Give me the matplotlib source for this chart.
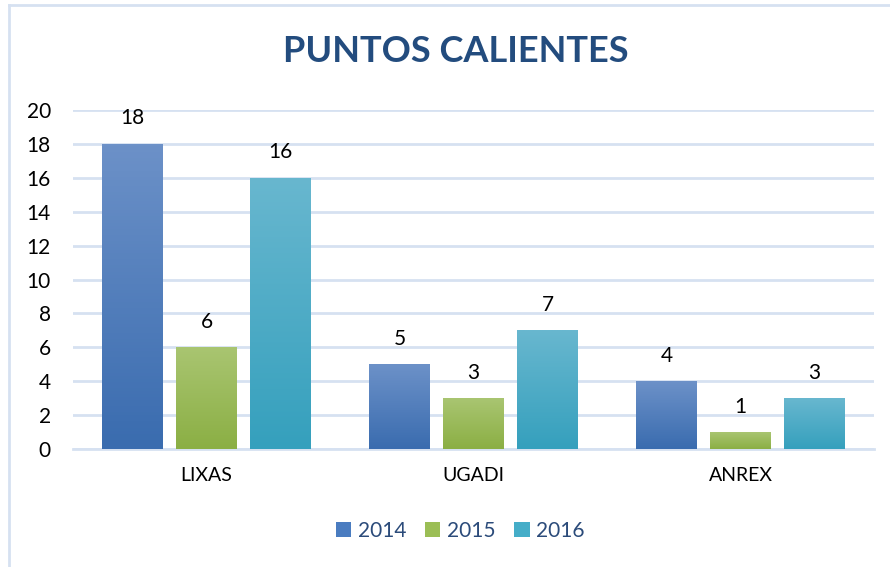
import numpy as np
import matplotlib.pyplot as plt
from matplotlib.colors import LinearSegmentedColormap
from matplotlib.patches import Patch
from matplotlib.lines import Line2D

categories = ["LIXAS", "UGADI", "ANREX"]
years = ["2014", "2015", "2016"]
v2014 = [18, 5, 4]
v2015 = [6, 3, 1]
v2016 = [16, 7, 3]

# top / bottom colours of each series gradient
grads = [("#6C91C8", "#3A6CAF"), ("#A9C571", "#8BAF44"), ("#68B7CF", "#35A0BD")]
mids = ["#4A7CC0", "#9BBE55", "#45ADC8"]

plt.rcParams['font.family'] = ['Lato', 'DejaVu Sans']

fig = plt.figure(figsize=(8.9, 5.67), dpi=100)
ax = fig.add_axes([73 / 890, 1 - 449 / 567, 801 / 890, 339 / 567])

x = np.arange(len(categories))
width = 0.228
step = 0.277
series = [v2014, v2015, v2016]

for i, vals in enumerate(series):
    top, bot = grads[i]
    cmap = LinearSegmentedColormap.from_list("g%d" % i, [bot, top])
    bars = ax.bar(x + (i - 1) * step, vals, width, color=mids[i], zorder=2)
    for b, v in zip(bars, vals):
        x0 = b.get_x()
        grad = np.linspace(0, 1, 100).reshape(-1, 1)
        im = ax.imshow(grad, cmap=cmap, origin="lower", aspect="auto",
                       extent=[x0, x0 + width, 0, v], zorder=3)
        im.set_clip_path(b)
        ax.text(x0 + width / 2, v + 1.5, str(v), ha="center", va="center",
                fontsize=15, color="black", zorder=4)

ax.set_xlim(-0.5, 2.5)
ax.set_ylim(0, 20)
ax.set_yticks(range(0, 21, 2))
ax.set_xticks(x)
ax.set_xticklabels(categories)
ax.tick_params(axis="y", length=0, labelsize=15, pad=16)
ax.tick_params(axis="x", length=0, labelsize=14, pad=13)
ax.grid(axis="y", color="#D6E1F1", linewidth=2, zorder=0)
ax.set_axisbelow(True)
for s in ["top", "right", "left"]:
    ax.spines[s].set_visible(False)
ax.spines["bottom"].set_color("#D6E1F1")
ax.spines["bottom"].set_linewidth(2)

fig.text(456 / 890, 1 - 52 / 567, "PUNTOS CALIENTES", ha="center", va="center",
         fontsize=26, fontweight="bold", color="#234C7E")

handles = [Patch(facecolor=mids[i], edgecolor="none") for i in range(3)]
leg = fig.legend(handles, years, loc="center", bbox_to_anchor=(460 / 890, 1 - 531 / 567),
                 ncol=3, frameon=False, fontsize=15, handlelength=0.75, handleheight=0.75,
                 handletextpad=0.3, columnspacing=0.9)
for t in leg.get_texts():
    t.set_color("#2B4B7A")

# chart frame (top and left edges visible)
fig.add_artist(Line2D([9 / 890, 1], [1 - 5 / 567, 1 - 5 / 567], color="#D6E1F1", linewidth=2))
fig.add_artist(Line2D([9 / 890, 9 / 890], [0, 1 - 5 / 567], color="#D6E1F1", linewidth=2))

fig.savefig("out.png", dpi=100)
